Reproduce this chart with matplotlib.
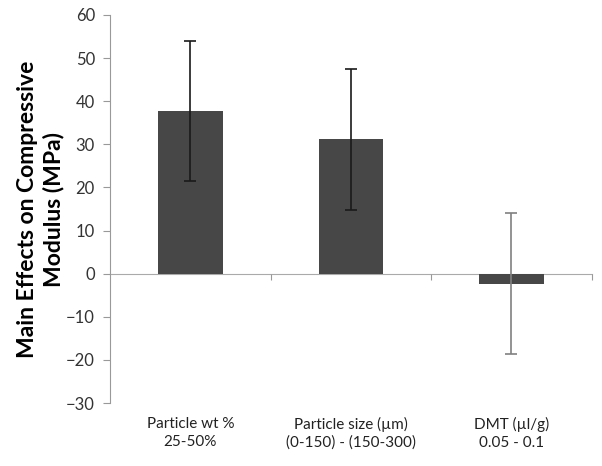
import numpy as np
import matplotlib.pyplot as plt

# Data
categories = ['Particle wt %\n25-50%', 'Particle size (µm)\n(0-150) - (150-300)', 'DMT (µl/g)\n0.05 - 0.1']
effects = [37.7, 31.2, -2.3]
errors = [16.3, 16.35, 16.4]
err_colors = ['#1a1a1a', '#1a1a1a', '#808080']
yticks = list(range(-30, 61, 10))

plt.rcParams['font.family'] = ['Lato', 'DejaVu Sans']

fig = plt.figure(figsize=(6.02, 4.66), dpi=100, facecolor='white')
ax = fig.add_axes([0.183, 0.135, 0.8, 0.833])

x = np.arange(len(categories))
ax.bar(x, effects, width=0.4, color='#474747', zorder=2)
for xi, v, e, c in zip(x, effects, errors, err_colors):
    ax.errorbar(xi, v, yerr=e, fmt='none', ecolor=c, elinewidth=1.2,
                capsize=4, capthick=1.2, zorder=3)

ax.set_xlim(-0.5, len(categories) - 0.5)
ax.set_ylim(-30, 60)
ax.set_yticks(yticks)
ax.tick_params(axis='y', direction='out', length=5, color='#999999',
               labelsize=12, labelcolor='#333333', pad=6)

# spines
for s in ['top', 'right']:
    ax.spines[s].set_visible(False)
ax.spines['left'].set_color('#999999')
ax.spines['bottom'].set_position(('data', 0))
ax.spines['bottom'].set_color('#aaaaaa')
ax.spines['bottom'].set_zorder(1)

# category boundary ticks on zero line, labels at bottom
ax.set_xticks(x + 0.5)
ax.set_xticklabels([])
ax.tick_params(axis='x', direction='out', length=4, color='#999999')
for xi, lab in zip(x, categories):
    ax.text(xi, -0.035, lab, transform=ax.get_xaxis_transform(),
            ha='center', va='top', fontsize=11, color='#222222',
            linespacing=1.35)

ax.set_ylabel('Main Effects on Compressive\nModulus (MPa)', fontsize=16.5,
              fontweight='bold', labelpad=1, linespacing=1.3,
              multialignment='center')

fig.savefig('out.png', dpi=100)
